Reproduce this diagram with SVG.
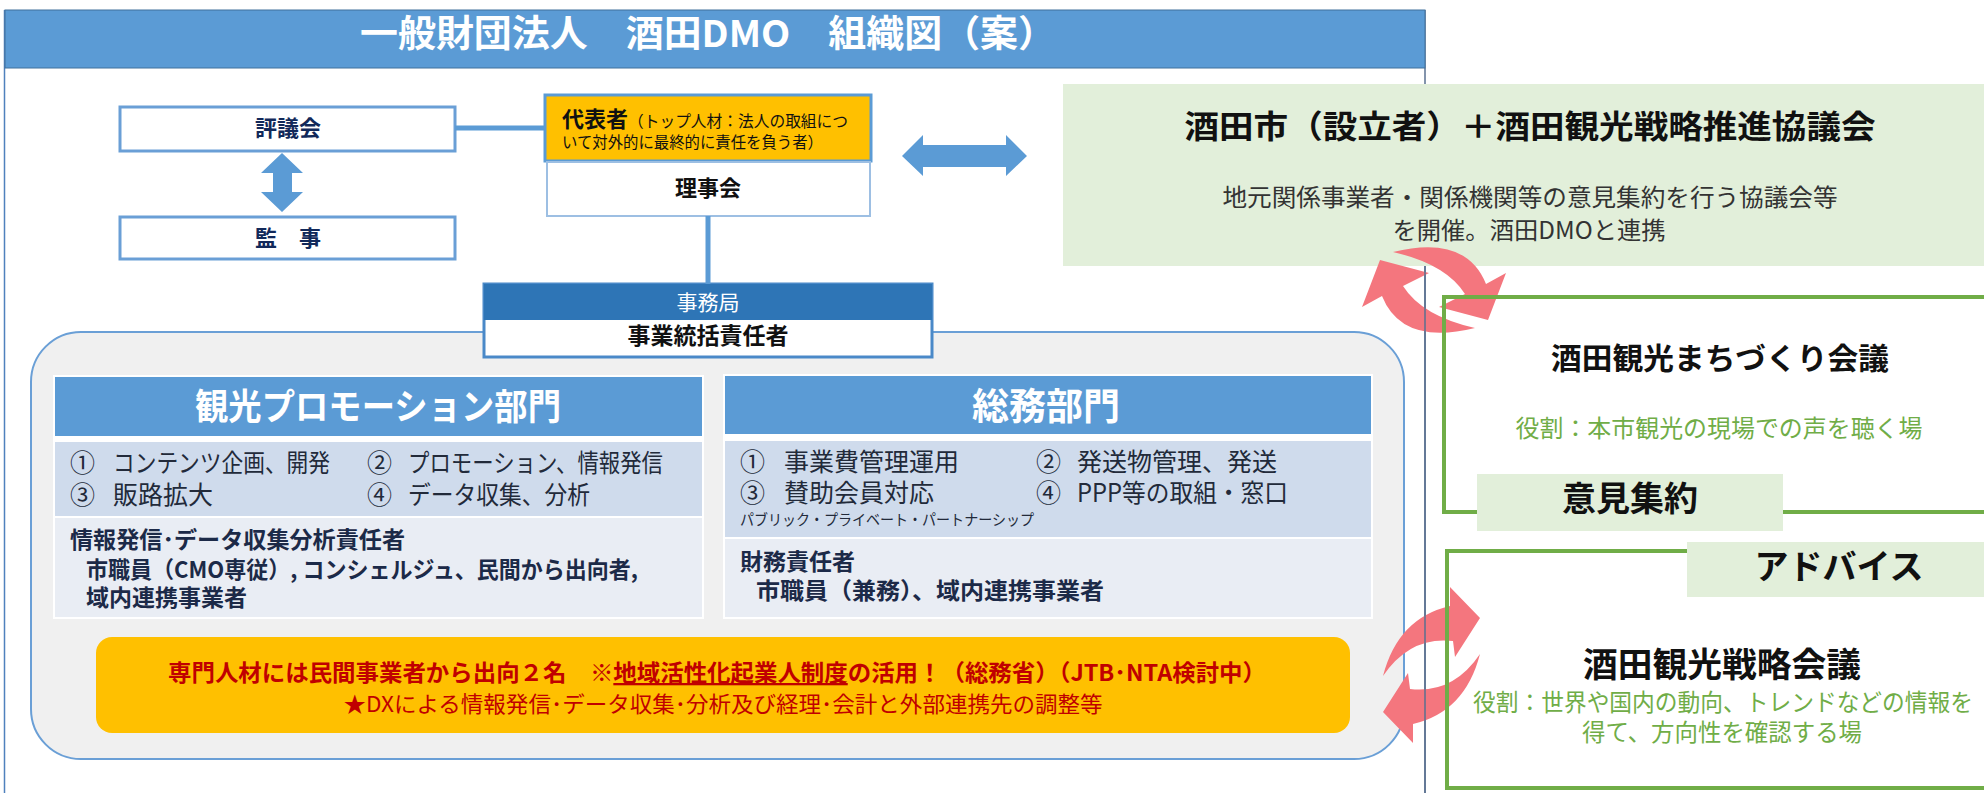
<svg xmlns="http://www.w3.org/2000/svg" width="1984" height="793" viewBox="0 0 1984 793">
<style>
.t{font-family:'Noto Sans CJK JP','Noto Sans',sans-serif;}
.b{font-weight:700;}
.c{text-anchor:middle;}
.navy{fill:#12295a;}
.blk{fill:#111;}
.item{fill:#222a3a;font-size:25px;}
.resp{fill:#1c2a48;font-size:23px;font-weight:700;}
.grn{fill:#70ad47;}
.red{fill:#c00000;}
.pink{fill:#f4767e;}
.blue{fill:#5b9bd5;}
</style>
<rect x="0" y="0" width="1984" height="793" fill="#ffffff"/>

<!-- frame and title -->
<g id="frame">
  <line x1="4.5" y1="10" x2="4.5" y2="793" stroke="#4f81bd" stroke-width="1.5"/>
  <line x1="1425" y1="10" x2="1425" y2="793" stroke="#5a7090" stroke-width="1.5"/>
  <rect x="5" y="10" width="1420" height="58" fill="#5b9bd5" stroke="#41719c" stroke-width="1"/>
  <text class="t b c" x="708" y="47" font-size="37" fill="#ffffff" textLength="696" lengthAdjust="spacingAndGlyphs">一般財団法人　酒田DMO　組織図（案）</text>
</g>

<!-- Sakata city + council -->
<g id="sakata-city">
  <rect x="1063" y="84" width="930" height="182" fill="#e2efda"/>
  <text class="t b c blk" x="1530" y="138" font-size="32" textLength="691" lengthAdjust="spacingAndGlyphs">酒田市（設立者）＋酒田観光戦略推進協議会</text>
  <text class="t c" x="1530" y="206" font-size="24" fill="#333" textLength="615" lengthAdjust="spacingAndGlyphs">地元関係事業者・関係機関等の意見集約を行う協議会等</text>
  <text class="t c" x="1529" y="239" font-size="24" fill="#333" textLength="273" lengthAdjust="spacingAndGlyphs">を開催。酒田DMOと連携</text>
</g>

<!-- big container -->
<g id="office-container">
  <rect x="31" y="332" width="1373" height="427" rx="50" ry="50" fill="#f0f0f0" stroke="#6a9fd6" stroke-width="2"/>
</g>

<g id="hyogikai">
  <rect x="120" y="107" width="335" height="44" fill="#ffffff" stroke="#6a9fd6" stroke-width="3"/>
  <text class="t b c navy" x="288" y="136" font-size="22">評議会</text>
</g>
<g id="kanji">
  <rect x="120" y="217" width="335" height="42" fill="#ffffff" stroke="#6a9fd6" stroke-width="3"/>
  <text class="t b c navy" x="288" y="246" font-size="22">監　事</text>
</g>

<g id="daihyo">
  <rect x="545" y="95" width="326" height="66" fill="#ffc000" stroke="#5b9bd5" stroke-width="3"/>
  <text class="t blk" x="562" y="127"><tspan class="b" font-size="22">代表者</tspan><tspan font-size="16" textLength="220" lengthAdjust="spacingAndGlyphs">（トップ人材：法人の取組につ</tspan></text>
  <text class="t blk" x="562" y="148" font-size="16" textLength="261" lengthAdjust="spacingAndGlyphs">いて対外的に最終的に責任を負う者）</text>
</g>
<g id="rijikai">
  <rect x="547" y="162" width="323" height="54" fill="#ffffff" stroke="#9dbfe3" stroke-width="2"/>
  <text class="t b c blk" x="708" y="196" font-size="22">理事会</text>
</g>

<g id="jimukyoku">
  <rect x="484" y="284" width="448" height="73" fill="#ffffff" stroke="#4a89c8" stroke-width="3"/>
  <rect x="484" y="284" width="448" height="36" fill="#2e75b6"/>
  <text class="t c" x="708" y="310" font-size="21" fill="#ffffff">事務局</text>
  <text class="t b c blk" x="708" y="344" font-size="23">事業統括責任者</text>
</g>

<g id="promo">
  <rect x="53" y="375" width="651" height="244" fill="#ffffff"/>
  <rect x="55" y="377" width="647" height="59" fill="#5b9bd5"/>
  <text class="t b c" x="378" y="420" font-size="36" fill="#ffffff" textLength="366" lengthAdjust="spacingAndGlyphs">観光プロモーション部門</text>
  <rect x="55" y="442" width="647" height="74" fill="#cfdbec"/>
  <text class="t item" x="70" y="472">①</text>
  <text class="t item" x="113" y="472" textLength="217" lengthAdjust="spacingAndGlyphs">コンテンツ企画、開発</text>
  <text class="t item" x="367" y="472">②</text>
  <text class="t item" x="408" y="472" textLength="255" lengthAdjust="spacingAndGlyphs">プロモーション、情報発信</text>
  <text class="t item" x="70" y="504">③</text>
  <text class="t item" x="113" y="504">販路拡大</text>
  <text class="t item" x="367" y="504">④</text>
  <text class="t item" x="408" y="504" textLength="182" lengthAdjust="spacingAndGlyphs">データ収集、分析</text>
  <rect x="55" y="518" width="647" height="99" fill="#e9edf4"/>
  <text class="t resp" x="70" y="548" textLength="335" lengthAdjust="spacingAndGlyphs">情報発信･データ収集分析責任者</text>
  <text class="t resp" x="86" y="578" textLength="552" lengthAdjust="spacingAndGlyphs">市職員（CMO専従）, コンシェルジュ、民間から出向者,</text>
  <text class="t resp" x="86" y="606">域内連携事業者</text>
</g>

<g id="somu">
  <rect x="723" y="374" width="650" height="245" fill="#ffffff"/>
  <rect x="725" y="376" width="646" height="58" fill="#5b9bd5"/>
  <text class="t b c" x="1046" y="420" font-size="37" fill="#ffffff">総務部門</text>
  <rect x="725" y="441" width="646" height="96" fill="#cfdbec"/>
  <text class="t item" x="740" y="471">①</text>
  <text class="t item" x="784" y="471">事業費管理運用</text>
  <text class="t item" x="1036" y="471">②</text>
  <text class="t item" x="1077" y="471">発送物管理、発送</text>
  <text class="t item" x="740" y="502">③</text>
  <text class="t item" x="784" y="502">賛助会員対応</text>
  <text class="t item" x="1036" y="502">④</text>
  <text class="t item" x="1077" y="502" textLength="211" lengthAdjust="spacingAndGlyphs">PPP等の取組・窓口</text>
  <text class="t" x="740" y="525" font-size="15" fill="#222a3a" textLength="294" lengthAdjust="spacingAndGlyphs">パブリック・プライベート・パートナーシップ</text>
  <rect x="725" y="539" width="646" height="78" fill="#e9edf4"/>
  <text class="t resp" x="740" y="570">財務責任者</text>
  <text class="t resp" x="756" y="599" textLength="348" lengthAdjust="spacingAndGlyphs">市職員（兼務）、域内連携事業者</text>
</g>

<g id="yellow-note">
  <rect x="96" y="637" width="1254" height="96" rx="16" ry="16" fill="#ffc000"/>
  <text class="t b c red" x="717" y="681" font-size="23" textLength="1098" lengthAdjust="spacingAndGlyphs">専門人材には民間事業者から出向２名　※<tspan style="text-decoration:underline">地域活性化起業人制度</tspan>の活用！（総務省）（JTB･NTA検討中）</text>
  <text class="t c red" x="723" y="712" font-size="22" textLength="759" lengthAdjust="spacingAndGlyphs">★DXによる情報発信･データ収集･分析及び経理･会計と外部連携先の調整等</text>
</g>

<g id="connectors">
  <line x1="455" y1="128" x2="545" y2="128" stroke="#5b9bd5" stroke-width="5"/>
  <line x1="708" y1="216" x2="708" y2="284" stroke="#5b9bd5" stroke-width="5"/>
  <path class="blue" d="M282,153 L303,173 L292,173 L292,192 L303,192 L282,212 L261,192 L273,192 L273,173 L261,173 Z"/>
  <path class="blue" d="M902,156 L923,135 L923,145 L1006,145 L1006,135 L1027,156 L1006,176 L1006,167 L923,167 L923,176 Z"/>
  <g id="cycle-top">
    <path class="pink" d="M1393,252 Q1466,234 1486,284 L1506,273 L1488,320 L1439,307 L1465,294 Q1446,264 1393,252 Z"/>
    <path class="pink" d="M1393,252 Q1466,234 1486,284 L1506,273 L1488,320 L1439,307 L1465,294 Q1446,264 1393,252 Z" transform="rotate(180,1434,290)"/>
  </g>
  <g id="cycle-bottom">
    <path class="pink" d="M1383,676 Q1398,618 1450,606 L1450,587 L1480,618 L1455,657 L1453,641 Q1410,636 1383,676 Z"/>
    <path class="pink" d="M1480,654 Q1465,712 1413,724 L1413,743 L1383,712 L1408,673 L1410,689 Q1453,694 1480,654 Z"/>
  </g>
</g>

<g id="divider">
  <line x1="1425" y1="266" x2="1425" y2="793" stroke="#5a7090" stroke-width="1.5"/>
</g>

<g id="machizukuri">
  <rect x="1444" y="297" width="560" height="215" fill="none" stroke="#70ad47" stroke-width="4"/>
  <text class="t b c blk" x="1720" y="369" font-size="30" textLength="338" lengthAdjust="spacingAndGlyphs">酒田観光まちづくり会議</text>
  <text class="t c grn" x="1719" y="437" font-size="24" textLength="407" lengthAdjust="spacingAndGlyphs">役割：本市観光の現場での声を聴く場</text>
</g>
<g id="iken">
  <rect x="1477" y="474" width="306" height="57" fill="#e2efda"/>
  <text class="t b c blk" x="1630" y="511" font-size="34">意見集約</text>
</g>

<g id="senryaku">
  <rect x="1447" y="551" width="560" height="237" fill="none" stroke="#70ad47" stroke-width="4"/>
  <text class="t b c blk" x="1722" y="677" font-size="34" textLength="278" lengthAdjust="spacingAndGlyphs">酒田観光戦略会議</text>
  <text class="t c grn" x="1723" y="711" font-size="24" textLength="500" lengthAdjust="spacingAndGlyphs">役割：世界や国内の動向、トレンドなどの情報を</text>
  <text class="t c grn" x="1722" y="741" font-size="24" textLength="280" lengthAdjust="spacingAndGlyphs">得て、方向性を確認する場</text>
</g>
<g id="advice">
  <rect x="1687" y="542" width="300" height="55" fill="#e2efda"/>
  <text class="t b c blk" x="1839" y="579" font-size="34">アドバイス</text>
</g>
</svg>
